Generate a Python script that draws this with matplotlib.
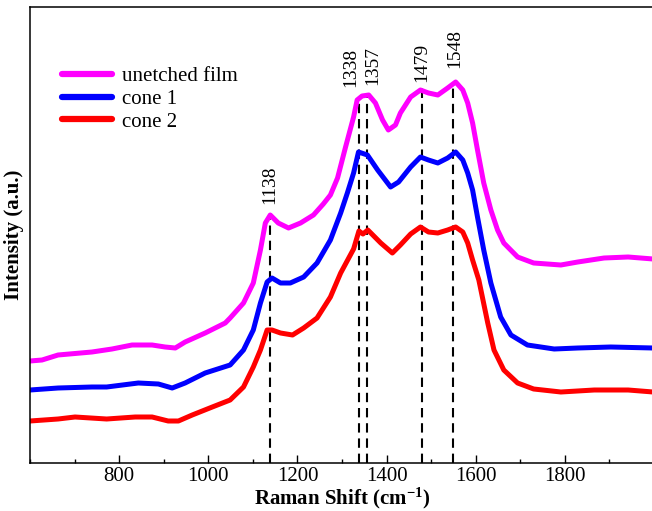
import matplotlib
matplotlib.use("Agg")
import matplotlib.pyplot as plt
from matplotlib.ticker import MultipleLocator

plt.rcParams['font.family'] = ['Liberation Serif', 'DejaVu Serif']
plt.rcParams['mathtext.default'] = 'regular'

# ---- data ----
x_unetched = [600, 627, 663, 739, 784, 829, 874, 903, 926, 948, 993, 1038, 1049, 1079,
              1101, 1117, 1128, 1139, 1157, 1180, 1207, 1236, 1258, 1274, 1290, 1308,
              1326, 1334, 1345, 1360, 1375, 1391, 1404, 1420, 1431, 1454, 1476, 1494,
              1515, 1537, 1555, 1571, 1582, 1593, 1604, 1618, 1634, 1649, 1663, 1694,
              1730, 1791, 1829, 1888, 1942, 1998]
y_unetched = [102, 103, 108, 111, 114, 118, 118, 116, 115, 121, 130, 140, 145, 160,
              180, 213, 240, 248, 240, 235, 240, 248, 259, 268, 285, 316,
              346, 363, 367, 368, 360, 343, 333, 338, 350, 366, 373, 370,
              368, 375, 381, 373, 360, 340, 313, 280, 253, 233, 220, 206,
              200, 198, 201, 205, 206, 204]

x_cone1 = [600, 663, 739, 772, 843, 888, 919, 948, 993, 1049, 1079, 1101, 1117, 1132,
           1143, 1162, 1184, 1214, 1244, 1274, 1297, 1312, 1326, 1337, 1357, 1380,
           1409, 1427, 1454, 1476, 1494, 1515, 1537, 1555, 1571, 1582, 1593, 1604,
           1618, 1634, 1656, 1679, 1716, 1776, 1829, 1903, 1998]
y_cone1 = [73, 75, 76, 76, 80, 79, 75, 80, 90, 98, 113, 133, 160, 181,
           185, 180, 180, 186, 200, 223, 250, 270, 290, 311, 308, 293,
           276, 281, 296, 306, 303, 300, 305, 311, 303, 290, 273, 246,
           213, 180, 146, 128, 118, 114, 115, 116, 115]

x_cone2 = [600, 663, 701, 772, 836, 874, 910, 933, 964, 1009, 1049, 1079, 1101, 1117,
           1132, 1143, 1162, 1189, 1214, 1244, 1274, 1297, 1326, 1338, 1347, 1358,
           1387, 1413, 1431, 1454, 1476, 1494, 1515, 1537, 1555, 1571, 1582, 1593,
           1607, 1627, 1641, 1663, 1694, 1730, 1791, 1866, 1942, 1998]
y_cone2 = [42, 44, 46, 44, 46, 46, 42, 42, 48, 56, 63, 76, 96, 113,
           133, 133, 130, 128, 135, 145, 166, 190, 214, 232, 229, 233,
           220, 210, 218, 229, 236, 231, 230, 233, 236, 231, 220, 203,
           183, 140, 113, 93, 80, 74, 71, 73, 73, 71]

series_labels = ['unetched film', 'cone 1', 'cone 2']
series_colors = ['#FF00FF', '#0000FF', '#FF0000']

peak_positions = [1138, 1338, 1357, 1479, 1548]
peak_line_tops = [250, 366, 366, 375, 381]
peak_label_x = [1138, 1320, 1370, 1479, 1552]
peak_label_y = [259, 376, 378, 381, 395]

x_major_ticks = [800, 1000, 1200, 1400, 1600, 1800]

# ---- figure ----
fig = plt.figure(figsize=(6.52, 5.11), dpi=100)
ax = fig.add_axes([30/652, 48/511, 624/652, 456/511])

for xs, ys, lab, col in zip([x_unetched, x_cone1, x_cone2],
                            [y_unetched, y_cone1, y_cone2],
                            series_labels, series_colors):
    ax.plot(xs, ys, color=col, lw=3.6, label=lab, solid_joinstyle='round',
            solid_capstyle='round')

for px, top in zip(peak_positions, peak_line_tops):
    ax.plot([px, px], [0, top], color='black', lw=1.5, ls=(0, (4.5, 2.8)), zorder=1)

for lx, ly, txt in zip(peak_label_x, peak_label_y, peak_positions):
    ax.text(lx, ly, str(txt), rotation=90, ha='center', va='bottom', fontsize=14)

ax.set_xlim(600, 2000)
ax.set_ylim(0, 456)
ax.set_xticks(x_major_ticks)
ax.xaxis.set_minor_locator(MultipleLocator(100))
ax.tick_params(axis='x', which='major', direction='in', length=6, width=1,
               labelsize=15, pad=3)
ax.tick_params(axis='x', which='minor', direction='in', length=3, width=1)
ax.set_yticks([])
for s in ax.spines.values():
    s.set_linewidth(1.1)

ax.set_xlabel(r'Raman Shift (cm$^{-1}$)', fontsize=15, fontweight='bold', labelpad=0)
ax.set_ylabel('Intensity (a.u.)', fontsize=15, fontweight='bold', labelpad=4)

leg = ax.legend(loc='upper left', bbox_to_anchor=(0.051, 0.869), frameon=False,
                fontsize=15, handlelength=2.4, handletextpad=0.5, labelspacing=0.15,
                borderpad=0, borderaxespad=0)
for h in leg.get_lines():
    h.set_linewidth(4.5)

fig.savefig('out.png', dpi=100)
